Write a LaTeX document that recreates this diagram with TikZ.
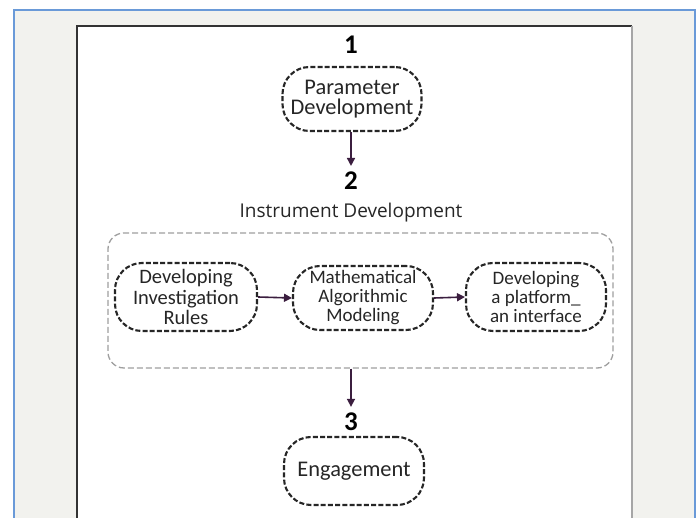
\documentclass[tikz,border=0pt]{standalone}
\usepackage{fontspec}
\setmainfont{Carlito}
\newfontfamily\osans{Open Sans}
\usetikzlibrary{arrows.meta}
\definecolor{panel}{HTML}{F2F2EE}
\definecolor{frameblue}{HTML}{6A9AD8}
\definecolor{arrowc}{HTML}{3B1E3F}
\definecolor{txt}{HTML}{262626}
\tikzset{
  stage/.style={draw=black!85, line width=2.1pt, dash pattern=on 5pt off 2.2pt,
    rounded corners=27pt, align=center, text=txt, inner sep=0pt,
    font=\fontsize{22.4}{20.5}\selectfont},
  tighttext/.style={font=\fontsize{20.5}{20.5}\selectfont},
  smalltext/.style={font=\fontsize{19}{19}\selectfont},
  bigbox/.style={draw=gray!75, line width=1.3pt, dash pattern=on 6pt off 3pt,
    rounded corners=16pt, inner sep=0pt},
  num/.style={font=\fontsize{27}{27}\selectfont\bfseries, text=black, inner sep=0pt},
  flow/.style={draw=arrowc, line width=1.6pt, -{Triangle[length=8pt,width=8pt]}}
}
\begin{document}
\begin{tikzpicture}[x=1pt,y=-1pt]
\useasboundingbox (0,0) rectangle (697,518);
\fill[white] (0,0) rectangle (697,518);
\fill[panel] (14,10) rectangle (695,518);
\draw[frameblue, line width=1.2pt] (14,518) -- (14,10) -- (695,10) -- (695,518);
\fill[white] (77,26) rectangle (632,518);
\draw[black!80, line width=1.2pt] (77,518) -- (77,26) -- (632,26);
\draw[gray!70, line width=1.5pt] (632,26) -- (632,518);

\node[num] (n1) at (351,45) {1};
\node[stage, minimum width=139pt, minimum height=64pt] (param) at (352,99) {Parameter\\Development};
\node[num] (n2) at (351,181) {2};
\node[font=\osans\fontsize{19}{19}\selectfont, text=txt] (instr) at (351,213) {Instrument Development};
\node[bigbox, minimum width=505pt, minimum height=135pt] (big) at (360.5,300.5) {};
\node[stage, tighttext, minimum width=142pt, minimum height=68pt] (rules) at (186,297) {Developing\\Investigation\\Rules};
\node[stage, smalltext, minimum width=140pt, minimum height=64pt] (math) at (363,298) {Mathematical\\Algorithmic\\Modeling};
\node[stage, smalltext, minimum width=140pt, minimum height=68pt] (plat) at (536,297) {Developing\\a platform\_\\an interface};
\node[num] (n3) at (351,422) {3};
\node[stage, minimum width=140pt, minimum height=68pt] (engage) at (354,471) {Engagement};

\draw[flow] (param.south -| n2) -- ([yshift=6pt]n2.north);
\draw[flow] (big.south -| n3) -- ([yshift=6pt]n3.north);
\draw[flow] (rules.east) -- (math.west);
\draw[flow] (math.east) -- (plat.west);
\end{tikzpicture}
\end{document}
